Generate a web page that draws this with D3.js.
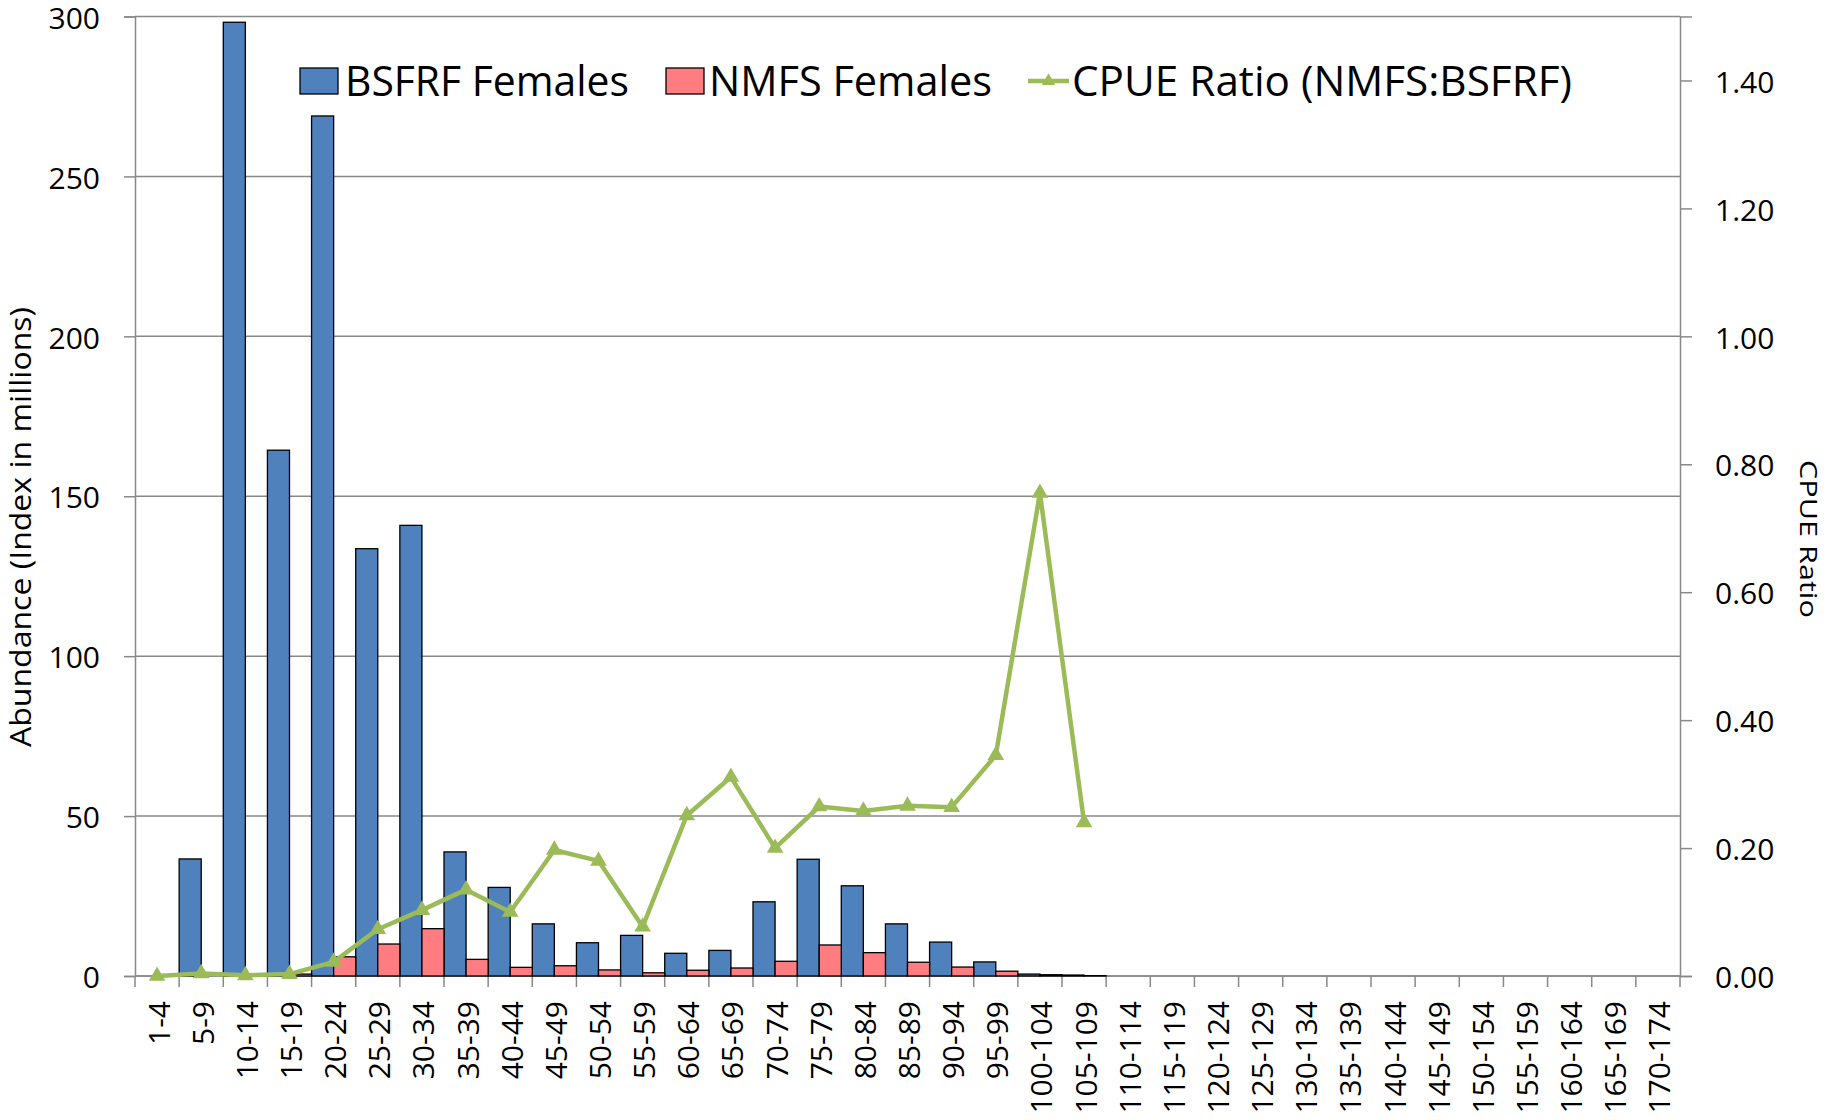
<!DOCTYPE html>
<html><head><meta charset="utf-8">
<script src="https://cdn.jsdelivr.net/npm/d3@7"></script>
<style>body{margin:0;background:#fff}svg{display:block}text{font-family:"Open Sans",sans-serif;fill:#000}</style>
</head><body>
<svg id="c" width="1827" height="1120"></svg>
<script>
const categories = ["1-4","5-9","10-14","15-19","20-24","25-29","30-34","35-39","40-44","45-49","50-54","55-59","60-64","65-69","70-74","75-79","80-84","85-89","90-94","95-99","100-104","105-109","110-114","115-119","120-124","125-129","130-134","135-139","140-144","145-149","150-154","155-159","160-164","165-169","170-174"];
const bsfrfFemales = [0,36.6,298.2,164.4,268.9,133.6,140.9,38.8,27.7,16.3,10.4,12.7,7.1,8.0,23.2,36.5,28.2,16.3,10.6,4.4,0.6,0.3,0,0,0,0,0,0,0,0,0,0,0,0,0];
const nmfsFemales = [0,0,0,0.6,6.0,10.0,14.8,5.2,2.7,3.2,1.9,1.0,1.8,2.5,4.6,9.7,7.3,4.3,2.8,1.5,0.4,0.1,0,0,0,0,0,0,0,0,0,0,0,0,0];
const cpueRatio = [0.0,0.004,0.001,0.003,0.022,0.073,0.103,0.135,0.10,0.197,0.18,0.077,0.251,0.311,0.20,0.265,0.258,0.266,0.264,0.345,0.755,0.24];
const leftTicks = [0,50,100,150,200,250,300];
const rightTicks = [0,0.2,0.4,0.6,0.8,1.0,1.2,1.4];
const seriesNames = ["BSFRF Females","NMFS Females","CPUE Ratio (NMFS:BSFRF)"];
const colors = {blue:"#4F81BD", pink:"#FF7C80", green:"#9BBB59", grid:"#898989"};

const svg = d3.select("#c");
const L = 135, R = 1680, T = 16.5, B = 976;
const x = d3.scaleBand().domain(categories).range([L, R]).padding(0);
const y = d3.scaleLinear().domain([0, 300]).range([B, T]);
const y2 = d3.scaleLinear().domain([0, 1.5]).range([B, T]);

// gridlines
svg.append("g").selectAll("line").data(leftTicks).join("line")
  .attr("x1", L).attr("x2", R).attr("y1", d => y(d)).attr("y2", d => y(d))
  .attr("stroke", colors.grid).attr("stroke-width", 1.5);

// left axis
const gl = svg.append("g").attr("transform", `translate(${L},0)`)
  .call(d3.axisLeft(y).tickValues(leftTicks).tickSize(11).tickPadding(24).tickFormat(d3.format("d")));
gl.select(".domain").attr("stroke", colors.grid).attr("stroke-width", 1.5);
gl.selectAll(".tick line").attr("stroke", colors.grid).attr("stroke-width", 1.5);
gl.selectAll(".tick text").attr("dy", "0.39em").style("font-size", "30px").style("font-family", "Open Sans").attr("fill", "#000");

// right axis
const gr = svg.append("g").attr("transform", `translate(${R},0)`)
  .call(d3.axisRight(y2).tickValues(rightTicks).tickSize(12).tickPadding(23).tickFormat(d3.format(".2f")));
gr.select(".domain").attr("stroke", colors.grid).attr("stroke-width", 1.5);
gr.selectAll(".tick line").attr("stroke", colors.grid).attr("stroke-width", 1.5);
gr.selectAll(".tick text").attr("dy", "0.39em").style("font-size", "30px").style("font-family", "Open Sans").attr("fill", "#000");

// bottom axis ticks at band boundaries
const bounds = categories.map(c => x(c)).concat([R]);
svg.append("g").selectAll("line").data(bounds).join("line")
  .attr("x1", d => d).attr("x2", d => d).attr("y1", B).attr("y2", B + 11)
  .attr("stroke", colors.grid).attr("stroke-width", 1.5);
svg.append("line").attr("x1", L).attr("x2", R).attr("y1", B).attr("y2", B)
  .attr("stroke", colors.grid).attr("stroke-width", 1.5);

// x labels
svg.append("g").selectAll("text").data(categories).join("text")
  .attr("transform", d => `translate(${x(d) + x.bandwidth()/2 + 2},${B + 25}) rotate(-90)`)
  .attr("text-anchor", "end").attr("dy", "0.35em")
  .style("font-size", "30px").text(d => d);

// bars
const half = x.bandwidth() / 2;
svg.append("g").selectAll("rect").data(categories.map((c,i)=>({c, v: bsfrfFemales[i]})).filter(d => d.v > 0)).join("rect")
  .attr("x", d => x(d.c)).attr("width", half)
  .attr("y", d => y(d.v)).attr("height", d => B - y(d.v))
  .attr("fill", colors.blue).attr("stroke", "#000").attr("stroke-width", 1.3);
svg.append("g").selectAll("rect").data(categories.map((c,i)=>({c, v: nmfsFemales[i]})).filter(d => d.v > 0)).join("rect")
  .attr("x", d => x(d.c) + half).attr("width", half)
  .attr("y", d => y(d.v)).attr("height", d => B - y(d.v))
  .attr("fill", colors.pink).attr("stroke", "#000").attr("stroke-width", 1.3);

// line
const pts = cpueRatio.map((v,i) => [x(categories[i]) + half, y2(v)]);
svg.append("path").attr("d", d3.line()(pts)).attr("fill", "none")
  .attr("stroke", colors.green).attr("stroke-width", 4.5).attr("stroke-linejoin", "round");
svg.append("g").selectAll("path").data(pts).join("path")
  .attr("transform", d => `translate(${d[0]},${d[1]})`)
  .attr("d", d3.symbol(d3.symbolTriangle, 120)).attr("fill", colors.green);

// axis titles
svg.append("text").attr("transform", `translate(31,527) rotate(-90)`)
  .attr("text-anchor", "middle").style("font-size", "30px")
  .attr("textLength", 440).attr("lengthAdjust", "spacingAndGlyphs")
  .text("Abundance (Index in millions)");
svg.append("text").attr("transform", `translate(1800,539) rotate(90)`)
  .attr("text-anchor", "middle").style("font-size", "24px")
  .attr("textLength", 158).attr("lengthAdjust", "spacingAndGlyphs")
  .text("CPUE Ratio");

// legend
const lg = svg.append("g");
lg.append("rect").attr("x", 300).attr("y", 68).attr("width", 38).attr("height", 26)
  .attr("fill", colors.blue).attr("stroke", "#000").attr("stroke-width", 1.3);
lg.append("text").attr("x", 345).attr("y", 96).style("font-size", "42px")
  .attr("textLength", 284).attr("lengthAdjust", "spacingAndGlyphs").text(seriesNames[0]);
lg.append("rect").attr("x", 666).attr("y", 68).attr("width", 38).attr("height", 26)
  .attr("fill", colors.pink).attr("stroke", "#000").attr("stroke-width", 1.3);
lg.append("text").attr("x", 709).attr("y", 96).style("font-size", "42px")
  .attr("textLength", 283).attr("lengthAdjust", "spacingAndGlyphs").text(seriesNames[1]);
lg.append("line").attr("x1", 1028).attr("x2", 1069).attr("y1", 81).attr("y2", 81)
  .attr("stroke", colors.green).attr("stroke-width", 4.5);
lg.append("path").attr("transform", "translate(1048.5,81)")
  .attr("d", d3.symbol(d3.symbolTriangle, 80)).attr("fill", colors.green);
lg.append("text").attr("x", 1072).attr("y", 96).style("font-size", "42px")
  .attr("textLength", 500).attr("lengthAdjust", "spacingAndGlyphs").text(seriesNames[2]);
</script>
</body></html>
